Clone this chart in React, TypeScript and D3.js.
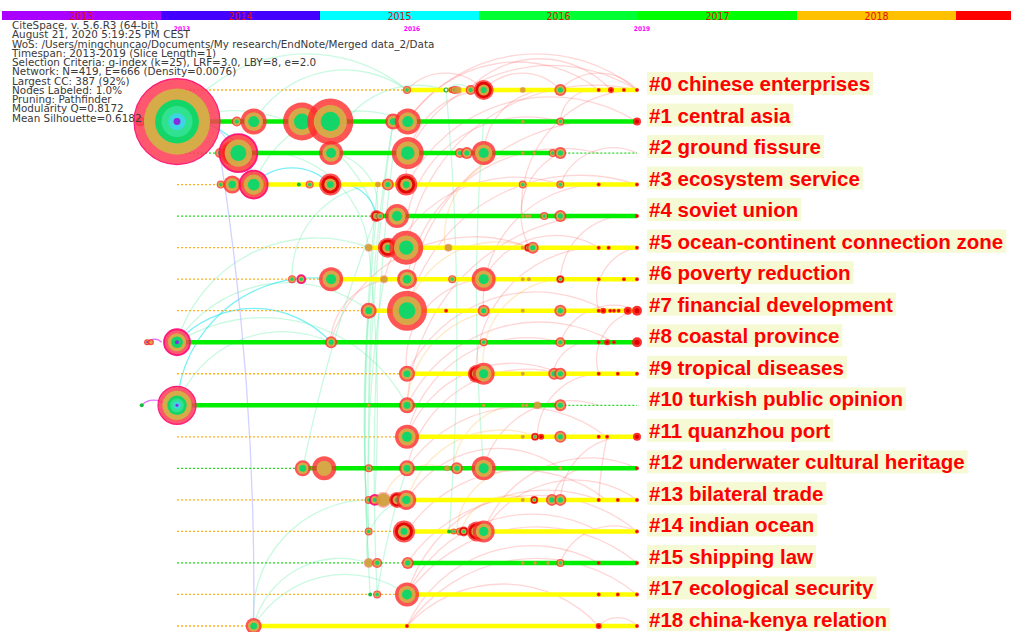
import * as d3 from "d3";
import { useEffect, useRef } from "react";

const width = 1011;
const height = 632;

// year bar at the top
const barYears = [2013, 2014, 2015, 2016, 2017, 2018, 2019];
const barColors = ["#aa00ff", "#4400ff", "#00ffff", "#00ff33", "#00ff00", "#ffc000", "#ff0000"];
const axisYears = [2013, 2016, 2019];

const infoLines = [
  "CiteSpace, v. 5.6.R3 (64-bit)",
  "August 21, 2020 5:19:25 PM CEST",
  "WoS: /Users/mingchuncao/Documents/My research/EndNote/Merged data_2/Data",
  "Timespan: 2013-2019 (Slice Length=1)",
  "Selection Criteria: g-index (k=25), LRF=3.0, LBY=8, e=2.0",
  "Network: N=419, E=666 (Density=0.0076)",
  "Largest CC: 387 (92%)",
  "Nodes Labeled: 1.0%",
  "Pruning: Pathfinder",
  "Modularity Q=0.8172",
  "Mean Silhouette=0.6182",
];

const clusterLabels = [
  "#0 chinese enterprises",
  "#1 central asia",
  "#2 ground fissure",
  "#3 ecosystem service",
  "#4 soviet union",
  "#5 ocean-continent connection zone",
  "#6 poverty reduction",
  "#7 financial development",
  "#8 coastal province",
  "#9 tropical diseases",
  "#10 turkish public opinion",
  "#11 quanzhou port",
  "#12 underwater cultural heritage",
  "#13 bilateral trade",
  "#14 indian ocean",
  "#15 shipping law",
  "#17 ecological security",
  "#18 china-kenya relation",
];

// y = yellow line, g = green line
const lineKinds = ["y", "g", "g", "y", "g", "y", "y", "y", "g", "y", "g", "y", "g", "y", "y", "g", "y", "y"];
const lineStart = [2016, 2013, 2013.56, 2013.56, 2015.6, 2015.5, 2015, 2015.5, 2013, 2016, 2013, 2016, 2014.64, 2016, 2016, 2016, 2016, 2014];
const lineEnd = [2019, 2019, 2018, 2019, 2019, 2019, 2019, 2019, 2019, 2019, 2018, 2019, 2019, 2019, 2019, 2019, 2019, 2019];

// [year, citations, style]
const nodesByRow: [number, number, string][][] = [
  [[2016, 16, "n"], [2016.51, 4, "g"], [2016.58, 9, "s"], [2016.62, 16, "n"], [2016.66, 16, "t"], [2016.83, 25, "n"], [2017, 100, "b"], [2017.51, 9, "t"], [2018, 36, "n"], [2018.5, 4, "r"], [2018.66, 9, "r"], [2018.83, 4, "r"], [2019, 4, "r"]],
  [[2012.52, 25, "p"], [2013, 1849, "o"], [2013.78, 25, "n"], [2014, 169, "n"], [2014.63, 361, "n"], [2015, 529, "n"], [2015.82, 64, "n"], [2016.01, 169, "n"], [2017.51, 4, "t"], [2018, 16, "n"], [2019, 16, "r"]],
  [[2013.56, 25, "n"], [2013.72, 144, "b"], [2013.8, 361, "m"], [2015.01, 144, "n"], [2016.01, 256, "n"], [2016.69, 25, "n"], [2016.78, 36, "n"], [2017, 144, "n"], [2017.51, 4, "t"], [2017.66, 4, "t"], [2017.9, 16, "n"], [2018, 36, "n"]],
  [[2013.57, 16, "n"], [2013.72, 81, "n"], [2014, 196, "m"], [2014.59, 4, "d"], [2014.73, 16, "n"], [2015, 121, "b"], [2015.62, 9, "t"], [2015.75, 36, "n"], [2015.99, 121, "b"], [2017.51, 16, "n"], [2018, 16, "n"], [2018.5, 4, "r"], [2019, 4, "r"]],
  [[2015.6, 36, "b"], [2015.65, 16, "n"], [2015.87, 144, "n"], [2017.51, 4, "t"], [2017.56, 4, "t"], [2017.6, 4, "t"], [2017.79, 16, "n"], [2018, 36, "n"], [2019, 4, "r"]],
  [[2015.5, 16, "t"], [2015.75, 100, "b"], [2015.99, 289, "n"], [2016.54, 16, "t"], [2017.51, 4, "t"], [2017.58, 16, "b"], [2017.64, 36, "n"], [2018.5, 4, "r"], [2018.63, 4, "r"], [2019, 4, "r"]],
  [[2014.5, 16, "n"], [2014.62, 16, "m"], [2015.01, 144, "n"], [2015.7, 16, "t"], [2016, 100, "n"], [2016.59, 16, "n"], [2017, 144, "n"], [2017.51, 4, "t"], [2017.59, 4, "t"], [2018, 16, "b"], [2018.5, 4, "r"], [2018.83, 4, "r"], [2019, 4, "r"]],
  [[2015.5, 64, "n"], [2016, 400, "n"], [2016.51, 4, "r"], [2017, 36, "n"], [2017.51, 4, "t"], [2018, 36, "n"], [2018.5, 4, "r"], [2018.56, 9, "r"], [2018.65, 4, "r"], [2018.7, 4, "r"], [2018.76, 4, "r"], [2018.88, 16, "r"], [2019, 25, "r"]],
  [[2012.61, 9, "p"], [2012.66, 9, "s"], [2013, 169, "q"], [2015.01, 36, "n"], [2017, 16, "n"], [2018, 25, "n"], [2018.5, 4, "r"], [2018.61, 9, "r"], [2018.7, 4, "r"], [2019, 25, "r"]],
  [[2016, 64, "n"], [2016.91, 81, "b"], [2017, 121, "n"], [2017.51, 4, "t"], [2017.92, 36, "n"], [2018, 36, "n"], [2018.5, 4, "r"], [2018.75, 4, "r"], [2019, 4, "r"]],
  [[2012.54, 4, "d"], [2013, 361, "o"], [2015.5, 4, "t"], [2016, 64, "n"], [2017, 4, "t"], [2017.51, 4, "t"], [2017.56, 4, "t"], [2017.7, 16, "t"], [2018, 36, "n"]],
  [[2016, 144, "n"], [2017.51, 4, "t"], [2017.67, 16, "b"], [2017.75, 9, "r"], [2018, 36, "n"], [2018.5, 4, "r"], [2018.61, 4, "r"], [2019, 16, "r"]],
  [[2014.64, 64, "n"], [2014.92, 144, "u"], [2015.5, 16, "n"], [2016, 64, "n"], [2016.52, 9, "t"], [2016.65, 36, "n"], [2017, 144, "n"], [2018, 4, "t"], [2019, 4, "r"]],
  [[2015.5, 16, "n"], [2015.58, 25, "m"], [2015.69, 64, "t"], [2015.87, 64, "b"], [2015.99, 100, "n"], [2017.51, 4, "t"], [2017.66, 16, "b"], [2017.89, 36, "n"], [2018, 36, "n"], [2018.5, 4, "r"], [2018.75, 4, "r"], [2019, 4, "r"]],
  [[2015.5, 16, "n"], [2015.96, 121, "b"], [2016.55, 4, "d"], [2016.61, 9, "n"], [2016.69, 16, "n"], [2016.74, 25, "b"], [2016.91, 100, "b"], [2017, 121, "n"], [2019, 4, "r"]],
  [[2015.5, 25, "t"], [2015.61, 25, "n"], [2016.01, 36, "n"], [2017.51, 4, "t"], [2017.67, 4, "t"], [2017.84, 4, "t"], [2018, 16, "n"], [2018.5, 4, "r"], [2019, 4, "r"]],
  [[2015.52, 4, "d"], [2015.61, 16, "n"], [2016, 144, "n"], [2018.5, 4, "r"], [2018.75, 4, "r"], [2019, 4, "r"]],
  [[2014, 64, "n"], [2016, 4, "r"], [2018.5, 9, "r"], [2019, 4, "r"]],
];

// [rowA, yearA, rowB, yearB, colour]
const links: [number, number, number, number, string][] = [
  [0, 2016, 0, 2017, "r"], [0, 2017, 0, 2018, "r"], [0, 2018, 0, 2019, "r"], [1, 2016, 0, 2018.5, "r"],
  [5, 2016, 0, 2019, "r"], [7, 2016, 1, 2019, "r"], [9, 2016.9, 5, 2018.6, "r"], [11, 2017.7, 9, 2018.6, "r"],
  [13, 2018, 11, 2019, "r"], [14, 2017, 12, 2019, "r"], [16, 2016, 15, 2019, "r"], [17, 2016, 16, 2019, "r"],
  [17, 2018.5, 17, 2019, "r"], [6, 2015.7, 3, 2018, "r"], [8, 2015, 6, 2016, "r"], [12, 2017, 10, 2018.5, "r"],
  [15, 2018, 14, 2019, "r"], [13, 2017.9, 12, 2018.5, "r"], [9, 2017.9, 8, 2018.6, "r"], [3, 2018, 2, 2019, "r"],
  [4, 2016, 1, 2018, "r"], [10, 2016, 4, 2019, "r"], [12, 2016, 9, 2018, "r"], [14, 2016, 13, 2018.6, "r"],
  [6, 2017, 5, 2018.5, "r"], [2, 2017, 0, 2018, "r"], [7, 2017, 3, 2018.5, "r"], [11, 2016, 8, 2018, "r"],
  [16, 2016, 13, 2018.5, "r"], [9, 2016, 6, 2017, "r"], [3, 2016, 0, 2017, "r"], [17, 2016, 17, 2018.5, "r"],
  [2, 2016, 0, 2019, "r"], [4, 2017.5, 0, 2019, "r"], [3, 2016, 1, 2019, "r"], [6, 2016, 2, 2018.5, "r"],
  [1, 2016, 0, 2019, "r"], [0, 2016.8, 0, 2018.66, "r"], [7, 2016, 3, 2019, "r"], [8, 2015, 5, 2017.6, "r"],
  [9, 2016, 7, 2018.6, "r"], [10, 2016, 8, 2018.7, "r"], [11, 2016, 9, 2018, "r"], [12, 2016, 11, 2018.6, "r"],
  [13, 2016, 12, 2018, "r"], [14, 2017, 13, 2019, "r"], [15, 2016, 14, 2019, "r"], [16, 2016, 14, 2018.5, "r"],
  [17, 2016, 15, 2018.5, "r"], [7, 2018.5, 5, 2019, "r"], [9, 2018.5, 7, 2019, "r"], [13, 2018.5, 11, 2018.61, "r"],
  [5, 2017.6, 2, 2018, "r"], [1, 2018, 0, 2018.5, "r"], [6, 2018, 4, 2019, "r"], [8, 2018, 7, 2019, "r"],
  [1, 2013, 4, 2015.6, "g"], [1, 2014.63, 2, 2015.01, "g"], [2, 2013.8, 5, 2015.5, "g"], [8, 2013, 5, 2015.5, "g"],
  [8, 2013, 7, 2015.5, "g"], [12, 2014.64, 4, 2015.6, "g"], [15, 2015.5, 13, 2016, "g"], [16, 2015.61, 12, 2016, "g"],
  [17, 2014, 16, 2016, "g"], [17, 2014, 15, 2015.5, "g"], [14, 2015.5, 7, 2015.5, "g"], [16, 2015.52, 4, 2015.6, "g"],
  [13, 2015.58, 5, 2015.5, "g"], [0, 2016.51, 0, 2016.83, "g"], [14, 2016.55, 0, 2016.51, "g"], [12, 2017, 1, 2017, "g"],
  [1, 2013, 0, 2016, "g"], [2, 2015.01, 4, 2015.6, "g"], [6, 2014.5, 3, 2015.75, "g"],
  [15, 2015.5, 3, 2015.62, "g"], [16, 2015.61, 2, 2015.82, "g"], [14, 2015.5, 1, 2015.82, "g"], [12, 2015.5, 6, 2015.7, "g"],
  [10, 2015.5, 1, 2015.82, "g"], [1, 2014, 0, 2016, "g"], [2, 2015, 0, 2016.51, "g"], [3, 2014, 1, 2016, "g"],
  [10, 2013, 8, 2015, "g"], [8, 2013, 10, 2016, "g"], [17, 2014, 13, 2015.5, "g"],
  [10, 2013, 6, 2015, "c"], [3, 2014, 3, 2015, "c"], [3, 2015, 4, 2015.6, "c"], [1, 2013, 3, 2014, "c"], [8, 2013, 8, 2015.01, "c"],
  [14, 2016.65, 12, 2017.6, "o"], [5, 2016.5, 2, 2017.5, "o"], [10, 2016, 7, 2017.5, "o"], [13, 2015.69, 12, 2016.52, "o"],
  [14, 2016.7, 13, 2017.6, "o"], [7, 2016, 5, 2017.6, "o"], [9, 2017, 6, 2018, "o"], [12, 2016.6, 10, 2017.7, "o"],
  [13, 2016, 11, 2017.7, "o"],
  [17, 2014, 2, 2013.56, "b"], [1, 2013, 2, 2013.72, "b"],
  [8, 2012.61, 8, 2012.8, "m"], [10, 2012.54, 10, 2012.85, "m"],
];

const linkColors: Record<string, [string, number]> = {
  r: ["#ff6a6a", 0.28],
  g: ["#66eeaa", 0.35],
  c: ["#22e6f0", 0.6],
  o: ["#ffc060", 0.35],
  b: ["#b4b4ff", 0.6],
  m: ["#dd33ff", 0.7],
};

const RED = "#ff2b2b";
const TAN = "#d5ac48";
const GREEN = "#14d668";
// [radius fraction, fill, opacity]
const nodeStyles: Record<string, [number, string, number][]> = {
  n: [[1, RED, 0.8], [0.72, TAN, 0.95], [0.42, GREEN, 1]],
  m: [[1, RED, 0.8], [0.72, TAN, 0.95], [0.42, GREEN, 1]],
  b: [[1, RED, 0.8], [0.82, "#e00000", 0.9], [0.55, TAN, 0.95], [0.3, GREEN, 1]],
  o: [[1, "#ff3a55", 0.85], [0.77, TAN, 1], [0.51, GREEN, 1], [0.36, "#30e290", 1], [0.2, "#3cd6e2", 1], [0.08, "#8a2be2", 1]],
  q: [[1, "#ff3a55", 0.85], [0.7, TAN, 1], [0.45, GREEN, 1], [0.15, "#8a2be2", 1]],
  t: [[1, "#ff5050", 0.45], [0.82, "#cfa23a", 0.9]],
  u: [[1, RED, 0.8], [0.64, TAN, 0.95]],
  r: [[1, "#ff1a1a", 0.9], [0.5, "#e00000", 1]],
  s: [[1, RED, 0.85], [0.55, TAN, 1]],
  p: [[1, "#ff2020", 0.9], [0.65, TAN, 1], [0.35, "#8a2be2", 1]],
  d: [[1, "#10c040", 1]],
  g: [[1, "#ffffff", 1]],
};

export default function App() {
  const ref = useRef<SVGSVGElement>(null);

  useEffect(() => {
    const svg = d3.select(ref.current);
    svg.selectAll("*").remove();

    const x = d3.scaleLinear([2013, 2019], [177, 637]);
    const y = d3.scalePoint<number>(d3.range(clusterLabels.length), [90, 626]);
    const r = d3.scaleSqrt([0, 1849], [0, 43]);
    const barX = d3.scaleLinear([2013, 2020], [2, 2 + 7 * 159]);

    // year bar
    const bar = svg.append("g");
    bar.selectAll("rect").data(barYears).join("rect")
      .attr("x", (d) => barX(d)).attr("y", 11)
      .attr("width", (d) => barX(d + 1) - barX(d)).attr("height", 9)
      .attr("fill", (d, i) => barColors[i]);
    bar.selectAll("text").data(barYears.filter((d) => barX(d + 0.5) + 12 < width)).join("text")
      .attr("x", (d) => barX(d + 0.5)).attr("y", 19.5)
      .attr("text-anchor", "middle")
      .attr("font-family", "DejaVu Sans Condensed, DejaVu Sans")
      .attr("font-size", 10.5)
      .attr("fill", "#dd1111")
      .text((d) => d);

    svg.append("g").selectAll("text").data(axisYears).join("text")
      .attr("x", (d) => x(d) + 5).attr("y", 31)
      .attr("text-anchor", "middle")
      .attr("font-family", "DejaVu Sans Condensed, DejaVu Sans")
      .attr("font-weight", "bold")
      .attr("font-size", 6.5)
      .attr("fill", "#ff00ff")
      .text((d) => d);

    // links
    const pos = (row: number, yr: number) => [x(yr), y(row) as number];
    svg.append("g").attr("fill", "none").selectAll("path").data(links).join("path")
      .attr("d", (l) => {
        let [ax, ay] = pos(l[0], l[1]);
        let [bx, by] = pos(l[2], l[3]);
        if (ax > bx) [ax, ay, bx, by] = [bx, by, ax, ay];
        const dx = bx - ax, dy = by - ay;
        const dist = Math.hypot(dx, dy);
        const rad = Math.abs(dx) < 0.3 * Math.abs(dy) ? dist * 6 : dist * 0.68;
        return `M${ax},${ay}A${rad},${rad} 0 0 1 ${bx},${by}`;
      })
      .attr("stroke", (l) => linkColors[l[4]][0])
      .attr("stroke-opacity", (l) => linkColors[l[4]][1])
      .attr("stroke-width", 1.3);

    // timelines
    const rows = d3.range(clusterLabels.length);
    const lines = svg.append("g");
    lines.selectAll("line.pre").data(rows.filter((i) => lineStart[i] > 2013)).join("line")
      .attr("class", "pre")
      .attr("x1", x(2013)).attr("x2", (i) => x(lineStart[i]))
      .attr("y1", (i) => y(i) as number).attr("y2", (i) => y(i) as number)
      .attr("stroke", (i) => (lineKinds[i] === "y" ? "#ffb020" : "#22dd22"))
      .attr("stroke-width", 1.3).attr("stroke-dasharray", "2,2");
    lines.selectAll("line.post").data(rows.filter((i) => lineEnd[i] < 2019)).join("line")
      .attr("class", "post")
      .attr("x1", (i) => x(lineEnd[i])).attr("x2", x(2019))
      .attr("y1", (i) => y(i) as number).attr("y2", (i) => y(i) as number)
      .attr("stroke", "#22dd22")
      .attr("stroke-width", 1.3).attr("stroke-dasharray", "2,2");
    lines.selectAll("line.main").data(rows).join("line")
      .attr("class", "main")
      .attr("x1", (i) => x(lineStart[i])).attr("x2", (i) => x(lineEnd[i]))
      .attr("y1", (i) => y(i) as number).attr("y2", (i) => y(i) as number)
      .attr("stroke", (i) => (lineKinds[i] === "y" ? "#ffff00" : "#00ee00"))
      .attr("stroke-width", 4.5);

    // nodes
    const nodes = rows.flatMap((i) => nodesByRow[i].map((n) => ({ row: i, year: n[0], cites: n[1], style: n[2] })));
    const ng = svg.append("g").selectAll("g").data(nodes).join("g")
      .attr("transform", (d) => `translate(${x(d.year)},${y(d.row)})`);
    ng.each(function (d) {
      const g = d3.select(this);
      const rr = r(d.cites);
      nodeStyles[d.style].forEach(([f, fill, op]) => {
        g.append("circle").attr("r", rr * f).attr("fill", fill).attr("fill-opacity", op);
      });
      if (d.style === "m" || d.style === "q" || d.style === "o") {
        g.append("circle").attr("r", rr).attr("fill", "none")
          .attr("stroke", "#ff0a78").attr("stroke-width", d.style === "o" ? 1.2 : 1.8).attr("stroke-opacity", 0.9);
      }
      if (d.style === "g") {
        g.select("circle").attr("stroke", "#10b040").attr("stroke-width", 1.2);
      }
    });

    // cluster labels
    const lg = svg.append("g");
    rows.forEach((i) => {
      const yy = y(i) as number;
      const rect = lg.append("rect").attr("x", 647).attr("y", yy - 18).attr("height", 23).attr("fill", "#f6fad4");
      const t = lg.append("text")
        .attr("x", 649).attr("y", yy + 1)
        .attr("font-family", "Liberation Sans, Arial, sans-serif")
        .attr("font-weight", "bold")
        .attr("font-size", 20.5)
        .attr("fill", "#ff0000")
        .text(clusterLabels[i]);
      const w = (t.node() as SVGTextElement).getComputedTextLength();
      rect.attr("width", w + 5);
    });

    // info block
    svg.append("g").selectAll("text").data(infoLines).join("text")
      .attr("x", 12).attr("y", (d, i) => 29 + i * 9.25)
      .attr("font-family", "DejaVu Sans")
      .attr("font-size", 10.4)
      .attr("fill", "#3a3a3a")
      .text((d) => d);
  }, []);

  return (
    <svg
      ref={ref}
      width={width}
      height={height}
      style={{ position: "absolute", left: 0, top: 0, background: "#fff" }}
    />
  );
}
